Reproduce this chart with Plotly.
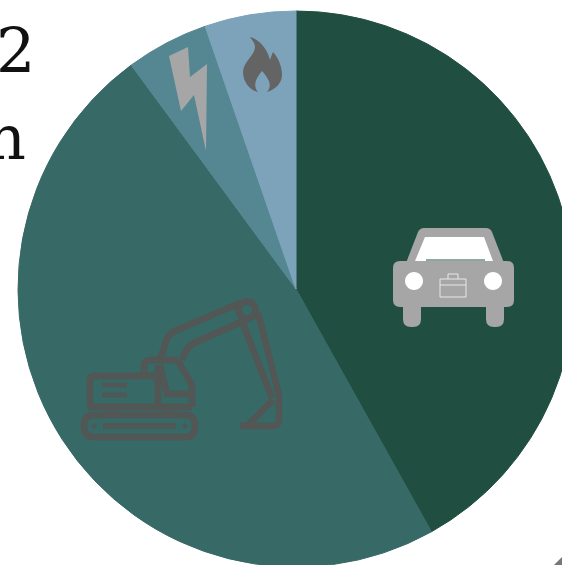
import plotly.graph_objects as go

categories = ["Vehicles", "Machinery", "Electricity", "Fuel"]
values = [41.9, 48.0, 4.8, 5.3]
colors = ["#204f41", "#376966", "#558793", "#7da3bb"]

W, H = 600, 600
GREY = "#a6a6a6"
DARK = "#525654"

fig = go.Figure(go.Pie(
    labels=categories, values=values, sort=False, direction="clockwise", rotation=0,
    marker=dict(colors=colors, line=dict(width=1, color=colors)), textinfo="none", hoverinfo="skip",
    showlegend=False,
    domain=dict(x=[18 / W, 574 / W], y=[(H - 567) / H, (H - 11) / H]),
))

shapes = []


def area(path, color, rule="evenodd"):
    shapes.append(dict(type="path", xref="x", yref="y", path=path, fillcolor=color,
                       fillrule=rule, line=dict(width=0), layer="above"))


def stroke(path, color=DARK, w=6.5):
    shapes.append(dict(type="path", xref="x", yref="y", path=path, line=dict(color=color, width=w),
                       layer="above"))


def rrect(x0, y0, x1, y1, r):
    return (f"M{x0 + r},{y0} L{x1 - r},{y0} Q{x1},{y0} {x1},{y0 + r} L{x1},{y1 - r} Q{x1},{y1} {x1 - r},{y1} "
            f"L{x0 + r},{y1} Q{x0},{y1} {x0},{y1 - r} L{x0},{y0 + r} Q{x0},{y0} {x0 + r},{y0} Z")


def circle(cx, cy, r):
    k = 0.5523 * r
    return (f"M{cx - r},{cy} C{cx - r},{cy - k} {cx - k},{cy - r} {cx},{cy - r} "
            f"C{cx + k},{cy - r} {cx + r},{cy - k} {cx + r},{cy} "
            f"C{cx + r},{cy + k} {cx + k},{cy + r} {cx},{cy + r} "
            f"C{cx - k},{cy + r} {cx - r},{cy + k} {cx - r},{cy} Z")


# car
area(rrect(393, 261, 514, 307, 7), GREY)
area(rrect(403, 295, 421, 327, 8), GREY)
area(rrect(486, 295, 504, 327, 8), GREY)
area("M406,263 L418,232 Q420,228 424,228 L486,228 Q490,228 492,232 L504,263 Z", GREY)
area("M425,237 L484,237 L493,261 L415,261 Z", "#ffffff")
stroke("M426,260 L485,260", "#204f41", 1)
area(circle(414, 281, 9), "#ffffff")
area(circle(493, 281, 9), "#ffffff")
stroke("M440,279 L466,279 L466,297 L440,297 Z M448,279 L448,274 L458,274 L458,279 M440,285 L466,285", "#e8e8e8", 1)
# excavator
stroke(rrect(84, 415, 195, 437, 10))
stroke("M103,426 L176,426", w=5.5)
area(circle(94, 426, 2.5), DARK)
area(circle(185, 426, 2.5), DARK)
stroke("M88,407 L192,407 M90,407 L90,380 Q90,376 94,376 L158,376 M158,365 L158,407")
stroke("M102,385 L127,385 M102,395 L127,395", w=4.5)
stroke("M112,407 L112,415 M168,407 L168,415")
stroke("M144,376 L144,366 Q144,360 151,360 L178,360")
stroke("M160,359 L167,339 Q169,334 175,331 L240,303")
stroke("M182,360 Q186,347 194,343 L250,318")
stroke(circle(247, 310, 8.5))
stroke("M241,319 L272,398 M258,313 L279,395")
stroke("M279,395 L279,419 Q279,426 272,426 L240,426 M273,400 L248,425")
stroke("M160,365 L167,394 L192,394 M178,361 L192,385 L192,407")
# lightning bolt
area("M169,56 L188,47 L190,77 L207,64 L206,151 L194,95 L181,111 Z", GREY)
# flame
area("M250,37 C262,40 268,52 270,60 C271,57 272,54 273,52 C279,58 282,68 282,75 C282,84 274,90 267,92 "
     "C272,86 270,80 262,71 C255,79 253,86 258,92 C252,91 243,84 243,72 C243,62 255,55 255,47 C255,43 252,40 250,37 Z", "#646464")
# corner mark
area("M554,565 L562,557 L562,565 Z", "#777777")

fig.update_layout(
    width=W, height=H, margin=dict(l=0, r=0, t=0, b=0),
    paper_bgcolor="#ffffff", plot_bgcolor="rgba(0,0,0,0)",
    xaxis=dict(range=[0, W], visible=False, domain=[0, 1], fixedrange=True),
    yaxis=dict(range=[H, 0], visible=False, domain=[0, 1], fixedrange=True),
    shapes=shapes,
    annotations=[
        dict(text="2", xref="x", yref="y", x=35, y=87, xanchor="right", yanchor="bottom", showarrow=False,
             font=dict(family="DejaVu Serif", size=62, color="#111111"), borderpad=0, borderwidth=0),
        dict(text="n", xref="x", yref="y", x=26, y=174, xanchor="right", yanchor="bottom", showarrow=False,
             font=dict(family="DejaVu Serif", size=62, color="#111111"), borderpad=0, borderwidth=0),
    ],
)
fig.write_html("out.html", config=dict(displayModeBar=False),
               post_script="document.documentElement.style.overflow='hidden';document.body.style.overflow='hidden';document.body.style.margin='0';")
